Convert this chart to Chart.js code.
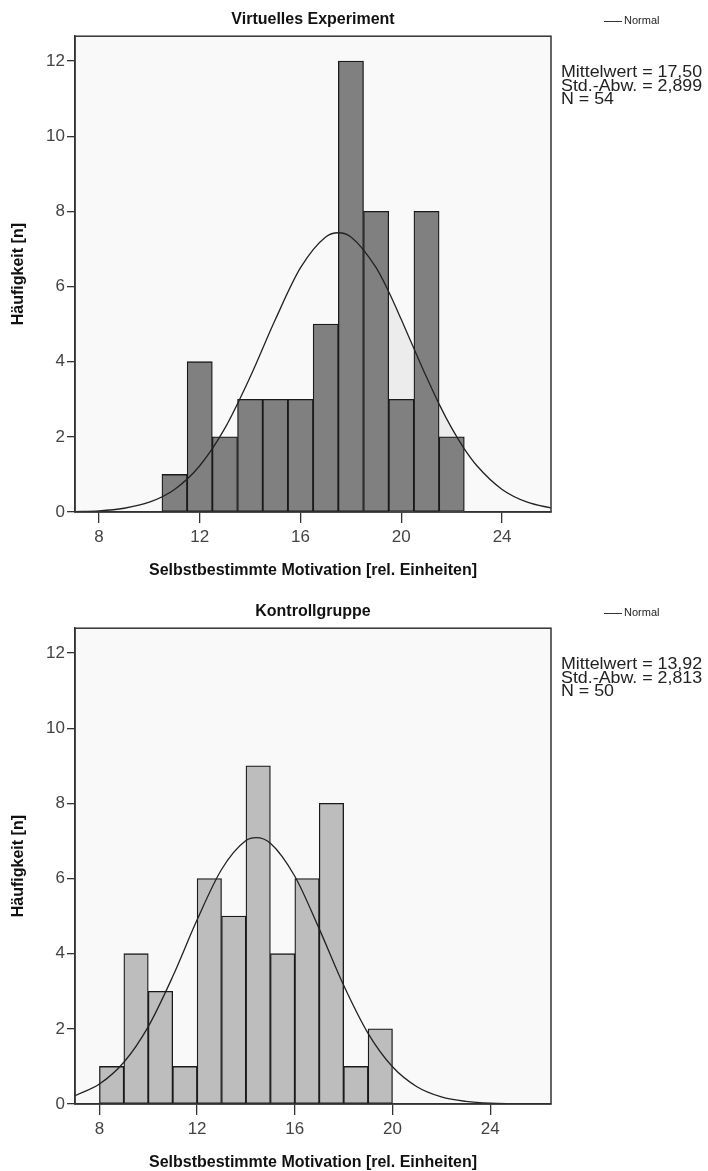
<!DOCTYPE html>
<html>
<head>
<meta charset="utf-8">
<script src="https://cdn.jsdelivr.net/npm/chart.js@4"></script>
<style>
  body { margin: 0; width: 708px; height: 1171px; overflow: hidden; background: #fff; font-family: 'Liberation Sans', Arial, sans-serif; }
  .panel { position: absolute; left: 0; width: 708px; height: 592px; }
  .legend { position: absolute; left: 604px; top: 13px; font-size: 11px; line-height: 14px; color: #222; }
  .legend span.line { display: inline-block; width: 18px; border-top: 1px solid #333; vertical-align: middle; margin-right: 2px; }
  .stats { position: absolute; left: 561px; top: 65px; font-size: 16.5px; line-height: 13.5px; color: #222; white-space: nowrap; transform: scaleX(1.08); transform-origin: left top; }
</style>
</head>
<body>
<div class="panel" style="top:0">
  <canvas id="chartTop" width="708" height="592"></canvas>
  <div class="legend"><span class="line"></span>Normal</div>
  <div class="stats">Mittelwert = 17,50<br>Std.-Abw. = 2,899<br>N = 54</div>
</div>
<div class="panel" style="top:592px">
  <canvas id="chartCtrl" width="708" height="592"></canvas>
  <div class="legend"><span class="line"></span>Normal</div>
  <div class="stats">Mittelwert = 13,92<br>Std.-Abw. = 2,813<br>N = 50</div>
</div>
<script>
// Virtuelles Experiment
const topBinCenters = [11, 12, 13, 14, 15, 16, 17, 18, 19, 20, 21, 22];
const topCounts = [1, 4, 2, 3, 3, 3, 5, 12, 8, 3, 8, 2];
const topCurveX = [7, 8, 9, 10, 11, 12, 13, 14, 15, 16, 17, 17.5, 18, 19, 19.5, 20, 20.5, 21, 21.5, 22, 22.5, 23, 24, 25, 26];
const topCurveY = [0.01, 0.03, 0.10, 0.26, 0.60, 1.23, 2.23, 3.59, 5.12, 6.50, 7.32, 7.43, 7.32, 6.50, 5.86, 5.12, 4.35, 3.59, 2.87, 2.23, 1.68, 1.23, 0.60, 0.26, 0.10];
const topShadeBins = [20, 22];

// Kontrollgruppe
const ctrlBinCenters = [8.5, 9.5, 10.5, 11.5, 12.5, 13.5, 14.5, 15.5, 16.5, 17.5, 18.5, 19.5];
const ctrlCounts = [1, 4, 3, 1, 6, 5, 9, 4, 6, 8, 1, 2];
const ctrlCurveX = [7, 8, 9, 10, 11, 12, 13, 14, 14.42, 15, 16, 17, 18, 19, 20, 21, 22, 23, 24, 25, 26, 27];
const ctrlCurveY = [0.22, 0.53, 1.11, 2.06, 3.39, 4.90, 6.24, 7.01, 7.09, 6.94, 6.06, 4.66, 3.16, 1.88, 0.99, 0.46, 0.19, 0.07, 0.02, 0.01, 0, 0];

const xTickValues = [8, 12, 16, 20, 24];
const yTickValues = [0, 2, 4, 6, 8, 10, 12];

const FONT = "'Liberation Sans', Arial, sans-serif";
const AXIS = '#333';

const plotFrame = {
  id: 'plotFrame',
  beforeDraw(chart) {
    const { ctx, chartArea: a } = chart;
    ctx.save();
    ctx.fillStyle = '#f9f9f9';
    ctx.fillRect(a.left, a.top, a.right - a.left, a.bottom - a.top);
    ctx.restore();
  },
  afterDatasetsDraw(chart) {
    const { ctx, chartArea: a } = chart;
    ctx.save();
    ctx.strokeStyle = AXIS;
    ctx.lineWidth = 1.5;
    ctx.strokeRect(a.left, a.top, a.right - a.left, a.bottom - a.top);
    ctx.restore();
  }
};

function shadePoints(xs, ys, bins) {
  const pts = [];
  bins.forEach((b, i) => {
    if (i > 0) pts.push({ x: b - 1, y: null });
    xs.forEach((x, j) => {
      if (x >= b - 0.5 && x <= b + 0.5) pts.push({ x, y: ys[j] });
    });
  });
  return pts;
}

function makeHistogram(id, opts) {
  const datasets = [
    {
      type: 'line',
      label: 'Normal',
      data: opts.curveX.map((x, i) => ({ x, y: opts.curveY[i] })),
      borderColor: '#222',
      borderWidth: 1.3,
      pointRadius: 0,
      cubicInterpolationMode: 'monotone',
      fill: false,
      order: 0
    },
    {
      type: 'bar',
      label: 'Häufigkeit',
      data: opts.centers.map((x, i) => ({ x, y: opts.counts[i] })),
      backgroundColor: opts.barColor,
      borderColor: '#1a1a1a',
      borderWidth: 1.3,
      borderSkipped: false,
      barPercentage: 1,
      categoryPercentage: 1,
      order: 1
    }
  ];
  if (opts.shadeBins) {
    datasets.push({
      type: 'line',
      label: 'shade',
      data: shadePoints(opts.curveX, opts.curveY, opts.shadeBins),
      borderWidth: 0,
      borderColor: 'rgba(0,0,0,0)',
      backgroundColor: '#ececec',
      pointRadius: 0,
      fill: 'origin',
      spanGaps: false,
      order: 2
    });
  }

  return new Chart(document.getElementById(id), {
    type: 'bar',
    data: { datasets },
    options: {
      responsive: false,
      animation: false,
      layout: { padding: { left: 0, right: 157, top: 0, bottom: 0 } },
      plugins: {
        legend: { display: false },
        tooltip: { enabled: false },
        title: {
          display: true,
          text: opts.title,
          fullSize: false,
          color: '#111',
          font: { family: FONT, size: 16, weight: 'bold', lineHeight: 1.2 },
          padding: { top: 10, bottom: 7 }
        }
      },
      scales: {
        x: {
          type: 'linear',
          min: opts.xMin,
          max: opts.xMax,
          offset: false,
          afterFit(scale) { scale.height = 80; },
          afterBuildTicks(scale) { scale.ticks = xTickValues.map(v => ({ value: v })); },
          ticks: { color: '#444', font: { family: FONT, size: 17 }, padding: 4, maxRotation: 0 },
          grid: { drawOnChartArea: false, offset: false, color: AXIS, tickLength: 11, lineWidth: 1.3 },
          border: { display: true, color: AXIS, width: 1.5 },
          title: {
            display: true,
            text: 'Selbstbestimmte Motivation [rel. Einheiten]',
            color: '#111',
            font: { family: FONT, size: 16, weight: 'bold', lineHeight: 1.2 },
            padding: { top: 0, bottom: 12 }
          }
        },
        y: {
          min: 0,
          max: 12.66,
          afterFit(scale) { scale.width = 75; },
          afterBuildTicks(scale) { scale.ticks = yTickValues.map(v => ({ value: v })); },
          ticks: { color: '#444', font: { family: FONT, size: 17 }, padding: 2 },
          grid: { drawOnChartArea: false, color: AXIS, tickLength: 8, lineWidth: 1.3 },
          border: { display: true, color: AXIS, width: 1.5 },
          title: {
            display: true,
            text: 'Häufigkeit [n]',
            color: '#111',
            font: { family: FONT, size: 16, weight: 'bold', lineHeight: 1.2 },
            padding: { top: 9, bottom: 0 }
          }
        }
      }
    },
    plugins: [plotFrame]
  });
}

makeHistogram('chartTop', {
  title: 'Virtuelles Experiment',
  centers: topBinCenters,
  counts: topCounts,
  curveX: topCurveX,
  curveY: topCurveY,
  shadeBins: topShadeBins,
  barColor: '#808080',
  xMin: 7.05,
  xMax: 25.94
});

makeHistogram('chartCtrl', {
  title: 'Kontrollgruppe',
  centers: ctrlBinCenters,
  counts: ctrlCounts,
  curveX: ctrlCurveX,
  curveY: ctrlCurveY,
  barColor: '#bdbdbd',
  xMin: 7.0,
  xMax: 26.49
});
</script>
</body>
</html>
